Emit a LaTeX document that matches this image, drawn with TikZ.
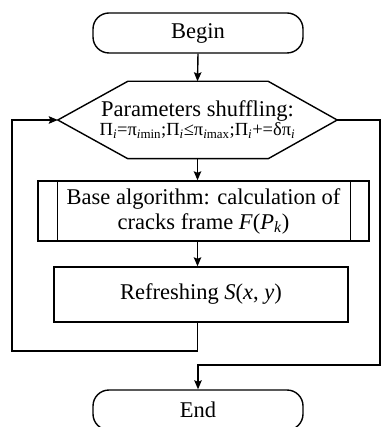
\documentclass[tikz,border=0pt]{standalone}
\usepackage{fontspec}
\setmainfont{Liberation Serif}
\usetikzlibrary{arrows.meta,shapes}
\tikzstyle{terminal}=[draw,rectangle,rounded corners=16pt,minimum width=210pt,minimum height=40pt,line width=1.4pt]
\tikzstyle{process}=[draw,rectangle,line width=1.4pt,inner sep=0pt,align=center]
\tikzstyle{hexbox}=[rectangle,minimum width=279pt,minimum height=77pt,inner sep=0pt,align=center]
\tikzstyle{edge} = [draw,line width=1.4pt,-]
\tikzstyle{arrow edge} = [draw,line width=1.4pt,-{Stealth[length=9pt,width=7.5pt,inset=1.5pt]}]

\begin{document}
\begin{tikzpicture}[x=1pt,y=-1pt,font=\fontsize{22.5}{25}\selectfont]
        \useasboundingbox (0,0) rectangle (381,427);
        \node[terminal] (begin) at (198,33) {Begin};
        \node[hexbox] (shuffle) at (197.5,120) {Parameters shuffling:\\[-6pt]{\fontsize{18.5}{18}\selectfont Π\textsubscript{\textit{i}}=π\textsubscript{\textit{i}min};Π\textsubscript{\textit{i}}≤π\textsubscript{\textit{i}max};Π\textsubscript{\textit{i}}+=δπ\textsubscript{\textit{i}}}};
        \node[process,minimum width=331pt,minimum height=60pt] (algo) at (203.5,211) {Base algorithm: calculation of\\cracks frame \textit{F}(\textit{P}\textsubscript{\textit{k}})};
        \node[process,minimum width=294pt,minimum height=55pt] (refresh) at (201,294.5) {Refreshing \textit{S}(\textit{x}, \textit{y})};
        \node[terminal] (finish) at (198,410) {End};
        \coordinate (loopcorner) at (12,351);
        \coordinate (exitcorner) at (380,365);
        % hexagon round the shuffling node
        \draw[edge] (shuffle.west) -- ([xshift=70pt]shuffle.north west) -- ([xshift=-69pt]shuffle.north east) -- (shuffle.east) -- ([xshift=-69pt]shuffle.south east) -- ([xshift=70pt]shuffle.south west) -- cycle;
        \draw[edge] ([xshift=20pt]algo.north west) to ([xshift=20pt]algo.south west);
        \draw[edge] ([xshift=-19pt]algo.north east) to ([xshift=-19pt]algo.south east);
        \draw[arrow edge] (begin.south) to (shuffle.north);
        \draw[arrow edge] (shuffle.south) to (shuffle.south |- algo.north);
        \draw[arrow edge] (shuffle.south |- algo.south) to (shuffle.south |- refresh.north);
        \draw[arrow edge] (shuffle.south |- refresh.south) |- (loopcorner) |- (shuffle.west);
        \draw[arrow edge] (shuffle.east) -| (exitcorner) -| (finish.north);
      \end{tikzpicture}
\end{document}
